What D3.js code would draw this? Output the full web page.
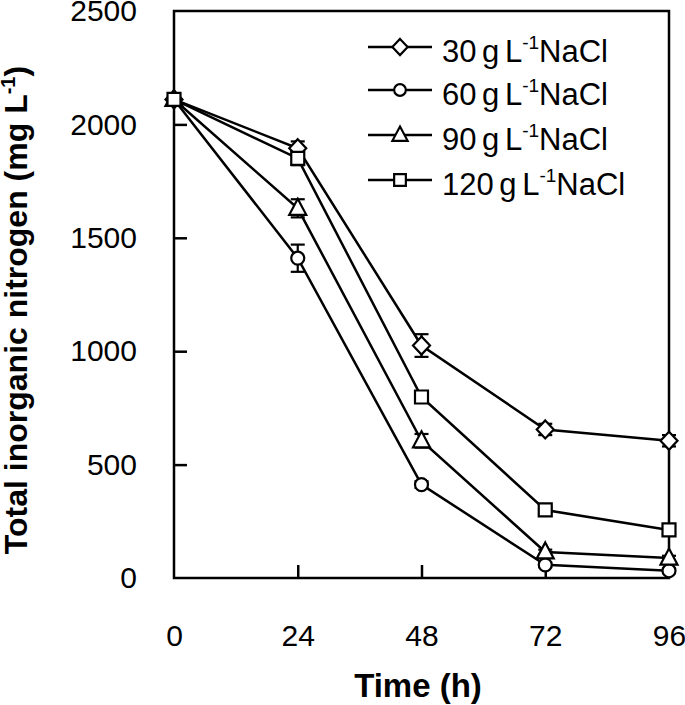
<!DOCTYPE html>
<html><head><meta charset="utf-8">
<script src="https://cdn.jsdelivr.net/npm/d3@7"></script>
<style>body{margin:0;background:#fff}svg{display:block}text{font-family:"Liberation Sans",Arial,sans-serif}</style>
</head><body>
<script>
const times = [0, 24, 48, 72, 96];
const seriesNames = ["30", "60", "90", "120"];
const symbols = ["diamond", "circle", "triangle", "square"];
const vals30 = [2110, 1895, 1025, 655, 605];
const vals60 = [2110, 1410, 412, 58, 32];
const vals90 = [2110, 1630, 605, 115, 88];
const vals120 = [2110, 1850, 798, 300, 212];
const err30 = [20, 30, 50, 25, 25];
const err60 = [20, 60, 15, 10, 10];
const err90 = [20, 40, 30, 10, 10];
const err120 = [20, 30, 20, 10, 10];
const xTicks = [0, 24, 48, 72, 96];
const yTicks = [0, 500, 1000, 1500, 2000, 2500];

const W = 685, H = 705;
const svg = d3.select("body").append("svg").attr("width", W).attr("height", H);
const x = d3.scaleLinear().domain([0, 96]).range([174, 669]);
const y = d3.scaleLinear().domain([0, 2500]).range([578, 11]);

const series = [vals30, vals60, vals90, vals120].map((v, i) => ({
  name: seriesNames[i], sym: symbols[i], vals: v, errs: [err30, err60, err90, err120][i]
}));

// custom symbol types
const symTypes = {
  diamond: {draw(c) { c.moveTo(0, -9); c.lineTo(8.5, 0); c.lineTo(0, 9); c.lineTo(-8.5, 0); c.closePath(); }},
  circle: {draw(c) { c.moveTo(6.5, 0); c.arc(0, 0, 6.5, 0, 2 * Math.PI); c.closePath(); }},
  triangle: {draw(c) { c.moveTo(0, -9.5); c.lineTo(8.5, 6.5); c.lineTo(-8.5, 6.5); c.closePath(); }},
  square: {draw(c) { c.rect(-6.5, -6.5, 13, 13); }}
};
const symbolPath = sym => d3.symbol().type(symTypes[sym])();

// frame
svg.append("rect").attr("x", x(0)).attr("y", y(2500)).attr("width", x(96) - x(0)).attr("height", y(0) - y(2500))
  .attr("fill", "none").attr("stroke", "#000").attr("stroke-width", 2.5);

// axes (inward ticks)
const xAxis = svg.append("g").attr("transform", `translate(0,${y(0)})`)
  .call(d3.axisBottom(x).tickValues(xTicks).tickSizeInner(-13).tickSizeOuter(0).tickPadding(47).tickFormat(d3.format("d")));
const yAxis = svg.append("g").attr("transform", `translate(${x(0)},0)`)
  .call(d3.axisLeft(y).tickValues(yTicks).tickSizeInner(-13).tickSizeOuter(0).tickPadding(37).tickFormat(d3.format("d")));
[xAxis, yAxis].forEach(a => {
  a.select(".domain").remove();
  a.selectAll(".tick line").attr("stroke", "#000").attr("stroke-width", 2.5);
  a.selectAll(".tick text").attr("fill", "#000").style("font-size", "30px").style("font-family", "Liberation Sans, Arial, sans-serif");
});
xAxis.selectAll(".tick").filter(d => d === 0 || d === 96).select("line").remove();
yAxis.selectAll(".tick").filter(d => d === 0 || d === 2500).select("line").remove();

// axis titles
svg.append("text").attr("x", 418).attr("y", 697).attr("text-anchor", "middle")
  .style("font-size", "33px").style("font-weight", "bold").text("Time (h)");
const yl = svg.append("text").attr("transform", "translate(27,310) rotate(-90)").attr("text-anchor", "middle")
  .style("font-size", "32px").style("font-weight", "bold");
yl.append("tspan").text("Total inorganic nitrogen (mg L");
yl.append("tspan").attr("dy", -12).style("font-size", "20px").text("-1");
yl.append("tspan").attr("dy", 12).text(")");

const line = d3.line().x(d => x(d[0])).y(d => y(d[1]));
series.forEach(s => {
  const pts = times.map((t, i) => [t, s.vals[i]]);
  svg.append("path").attr("d", line(pts)).attr("fill", "none").attr("stroke", "#000").attr("stroke-width", 2.5);
});
series.forEach(s => {
  times.forEach((t, i) => {
    const e = s.errs[i];
    const g = svg.append("g").attr("stroke", "#000").attr("stroke-width", 2.2);
    g.append("line").attr("x1", x(t)).attr("x2", x(t)).attr("y1", y(s.vals[i] - e)).attr("y2", y(s.vals[i] + e));
    [s.vals[i] - e, s.vals[i] + e].forEach(v =>
      g.append("line").attr("x1", x(t) - 7).attr("x2", x(t) + 7).attr("y1", y(v)).attr("y2", y(v)));
  });
});
series.forEach(s => {
  times.forEach((t, i) => {
    svg.append("path").attr("d", symbolPath(s.sym))
      .attr("transform", `translate(${x(t)},${y(s.vals[i])})`)
      .attr("fill", "#fff").attr("stroke", "#000").attr("stroke-width", 2.2);
  });
});

// legend
const legY = [47, 90, 135, 180];
series.forEach((s, r) => {
  const ly = legY[r];
  svg.append("line").attr("x1", 368).attr("x2", 432).attr("y1", ly).attr("y2", ly).attr("stroke", "#000").attr("stroke-width", 2.5);
  svg.append("path").attr("d", symbolPath(s.sym)).attr("transform", `translate(400,${ly}) scale(0.9)`)
    .attr("fill", "#fff").attr("stroke", "#000").attr("stroke-width", 2.4);
  const tx = svg.append("text").attr("x", 442).attr("y", ly + 15).style("font-size", "31px").style("word-spacing", "-3px");
  tx.append("tspan").text(s.name + " g L");
  tx.append("tspan").attr("dy", -13).style("font-size", "19px").text("-1");
  tx.append("tspan").attr("dy", 13).text("NaCl");
});
</script>
</body></html>
